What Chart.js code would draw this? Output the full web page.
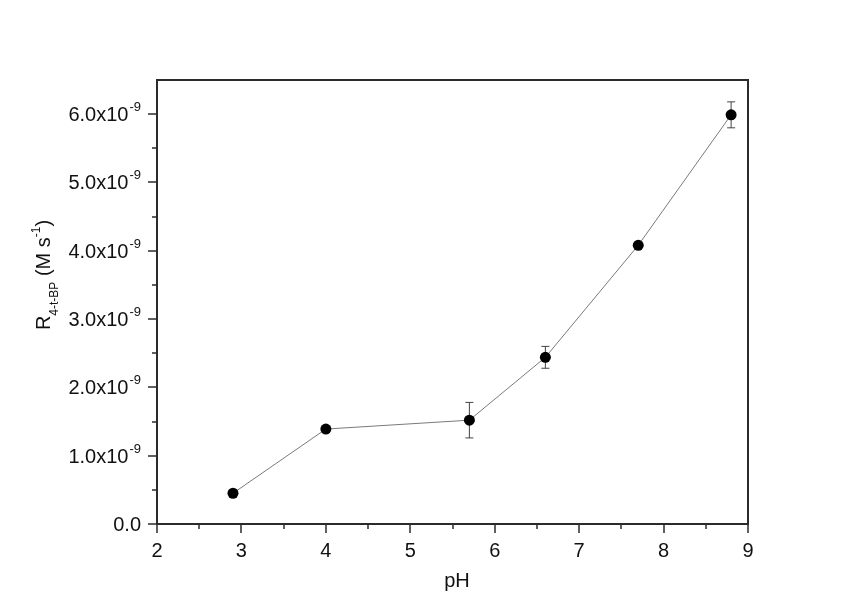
<!DOCTYPE html>
<html>
<head>
<meta charset="utf-8">
<script src="https://cdn.jsdelivr.net/npm/chart.js@4.4.1/dist/chart.umd.min.js"></script>
<style>
  html, body { margin: 0; padding: 0; background: #fff; }
  #wrap { width: 850px; height: 615px; position: relative; }
</style>
</head>
<body>
<div id="wrap"><canvas id="c" width="850" height="615"></canvas></div>
<script>
// ---- data ----
const pH = [2.9, 4.0, 5.7, 6.6, 7.7, 8.8];
const rate = [0.45e-9, 1.39e-9, 1.52e-9, 2.44e-9, 4.08e-9, 5.99e-9];
const rateErr = [0, 0, 0.26e-9, 0.16e-9, 0, 0.19e-9];
const xTicks = [2, 3, 4, 5, 6, 7, 8, 9];
const yTickMantissa = ['0.0', '1.0', '2.0', '3.0', '4.0', '5.0', '6.0'];
const yTickValues = [0, 1e-9, 2e-9, 3e-9, 4e-9, 5e-9, 6e-9];
const yExponent = '-9';
const xTitle = 'pH';
const yTitleParts = [['R', 'main'], ['4-t-BP', 'sub'], [' (M s', 'main'], ['-1', 'sup'], [')', 'main']];

const FONT = '"Liberation Sans", Arial, sans-serif';
const AXIS = '#2b2b2b';

const decor = {
  id: 'decor',
  beforeDatasetsDraw(chart) {
    const ctx = chart.ctx, x = chart.scales.x, y = chart.scales.y;
    ctx.save();
    ctx.strokeStyle = '#444';
    ctx.lineWidth = 1;
    for (let i = 0; i < pH.length; i++) {
      if (!rateErr[i]) continue;
      const px = x.getPixelForValue(pH[i]);
      const t = y.getPixelForValue(rate[i] + rateErr[i]);
      const b = y.getPixelForValue(rate[i] - rateErr[i]);
      ctx.beginPath();
      ctx.moveTo(px, t); ctx.lineTo(px, b);
      ctx.moveTo(px - 4, t); ctx.lineTo(px + 4, t);
      ctx.moveTo(px - 4, b); ctx.lineTo(px + 4, b);
      ctx.stroke();
    }
    ctx.restore();
  },
  afterDraw(chart) {
    const ctx = chart.ctx, x = chart.scales.x, y = chart.scales.y;
    const a = chart.chartArea;
    ctx.save();
    // frame
    ctx.strokeStyle = AXIS;
    ctx.lineWidth = 2;
    ctx.strokeRect(a.left, a.top, a.right - a.left, a.bottom - a.top);
    // x ticks
    ctx.lineWidth = 1.5;
    ctx.beginPath();
    for (let v = x.min; v <= x.max + 1e-9; v += 0.5) {
      const px = Math.round(x.getPixelForValue(v));
      const major = Math.abs(v - Math.round(v)) < 1e-6;
      ctx.moveTo(px, a.bottom); ctx.lineTo(px, a.bottom + (major ? 9 : 5));
    }
    // y ticks
    for (let k = 0; k <= 12; k++) {
      const v = k * 0.5e-9;
      const py = Math.round(y.getPixelForValue(v));
      const major = k % 2 === 0;
      ctx.moveTo(a.left, py); ctx.lineTo(a.left - (major ? 9 : 5), py);
    }
    ctx.stroke();

    ctx.fillStyle = '#111';
    // x tick labels
    ctx.font = '20px ' + FONT;
    ctx.textAlign = 'center';
    ctx.textBaseline = 'alphabetic';
    xTicks.forEach(v => ctx.fillText(String(v), x.getPixelForValue(v), a.bottom + 33));
    // y tick labels
    const rightEdge = a.left - 16;
    yTickValues.forEach((v, i) => {
      const py = y.getPixelForValue(v);
      ctx.textAlign = 'right';
      if (v === 0) {
        ctx.font = '20px ' + FONT;
        ctx.fillText(yTickMantissa[i], rightEdge, py + 7);
      } else {
        ctx.font = '13px ' + FONT;
        const supW = ctx.measureText(yExponent).width;
        ctx.fillText(yExponent, rightEdge, py - 3);
        ctx.font = '20px ' + FONT;
        ctx.fillText(yTickMantissa[i] + 'x10', rightEdge - supW - 1, py + 7);
      }
    });
    // x title
    ctx.textAlign = 'center';
    ctx.font = '20px ' + FONT;
    ctx.fillText(xTitle, 457, 587);
    // y title (rotated)
    const fonts = { main: '20px ' + FONT, sub: '12px ' + FONT, sup: '12px ' + FONT };
    const offs = { main: 0, sub: 8, sup: -10 };
    let total = 0;
    yTitleParts.forEach(p => { ctx.font = fonts[p[1]]; total += ctx.measureText(p[0]).width; });
    ctx.translate(50, 275);
    ctx.rotate(-Math.PI / 2);
    ctx.textAlign = 'left';
    let cx = -total / 2;
    yTitleParts.forEach(p => {
      ctx.font = fonts[p[1]];
      ctx.fillText(p[0], cx, offs[p[1]]);
      cx += ctx.measureText(p[0]).width;
    });
    ctx.restore();
  }
};

new Chart(document.getElementById('c'), {
  type: 'scatter',
  data: {
    datasets: [{
      data: pH.map((v, i) => ({ x: v, y: rate[i] })),
      showLine: true,
      borderColor: '#7a7a7a',
      borderWidth: 1,
      pointRadius: 5.5,
      pointHoverRadius: 5.5,
      pointBackgroundColor: '#000',
      pointBorderColor: '#000',
      pointBorderWidth: 0,
      clip: false
    }]
  },
  options: {
    responsive: false,
    animation: false,
    events: [],
    layout: { padding: { left: 157, right: 102, top: 80, bottom: 91 } },
    plugins: { legend: { display: false }, tooltip: { enabled: false } },
    scales: {
      x: { type: 'linear', min: 2, max: 9, display: false },
      y: { type: 'linear', min: 0, max: 6.5e-9, display: false }
    }
  },
  plugins: [decor]
});
</script>
</body>
</html>
